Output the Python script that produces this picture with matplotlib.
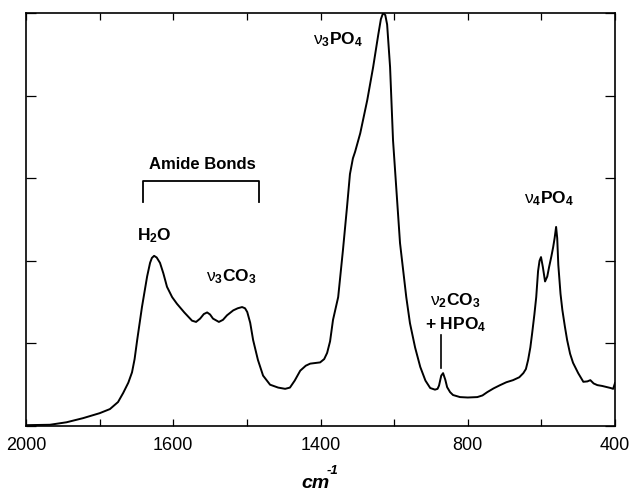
import matplotlib
matplotlib.use("Agg")
import matplotlib.pyplot as plt

plt.rcParams['font.family'] = ['Liberation Sans', 'DejaVu Sans']
plt.rcParams['mathtext.fontset'] = 'custom'
plt.rcParams['mathtext.rm'] = 'Liberation Sans'
plt.rcParams['mathtext.bf'] = 'Liberation Sans:bold'
plt.rcParams['mathtext.it'] = 'Liberation Sans:bold:italic'

# Spectrum (wavenumber cm^-1, relative absorbance)
wavenumber = [2000, 1935, 1890, 1845, 1800, 1772, 1750, 1736, 1722, 1712, 1705, 1698,
              1685, 1671, 1663, 1658, 1652, 1645, 1636, 1627, 1617, 1603, 1590, 1570,
              1549, 1538, 1527, 1517, 1508, 1500, 1492, 1476, 1465, 1454, 1437, 1425,
              1413, 1405, 1399, 1391, 1383, 1370, 1356, 1337, 1315, 1296, 1283, 1270,
              1255, 1240, 1228, 1201, 1190, 1182, 1174, 1166, 1152, 1139, 1128, 1120,
              1112, 1106, 1092, 1073, 1057, 1043, 1036, 1030, 1024, 1019, 1011, 1003,
              992, 984, 967, 957, 943, 929, 915, 902, 889, 882, 878, 872, 867, 861,
              856, 848, 840, 821, 800, 774, 760, 747, 730, 712, 695, 677, 660, 649,
              642, 636, 630, 625, 619, 614, 609, 605, 601, 596, 590, 584, 579, 573,
              568, 564, 560, 557, 554, 548, 543, 536, 530, 522, 514, 500, 486, 475,
              467, 458, 448, 435, 421, 412, 405, 400]
absorbance = [0.002, 0.003, 0.009, 0.019, 0.031, 0.041, 0.058, 0.080, 0.105, 0.130, 0.162, 0.208,
              0.288, 0.362, 0.395, 0.407, 0.412, 0.408, 0.395, 0.370, 0.337, 0.312, 0.296, 0.275,
              0.255, 0.252, 0.260, 0.271, 0.275, 0.270, 0.260, 0.252, 0.257, 0.268, 0.280, 0.285,
              0.288, 0.285, 0.276, 0.250, 0.208, 0.160, 0.122, 0.100, 0.093, 0.090, 0.093, 0.110,
              0.134, 0.146, 0.151, 0.154, 0.162, 0.177, 0.205, 0.257, 0.312, 0.426, 0.530, 0.610,
              0.648, 0.664, 0.709, 0.789, 0.869, 0.948, 0.985, 1.000, 0.995, 0.972, 0.869, 0.692,
              0.547, 0.443, 0.312, 0.249, 0.190, 0.143, 0.110, 0.092, 0.088, 0.090, 0.098, 0.122,
              0.128, 0.112, 0.094, 0.082, 0.075, 0.070, 0.069, 0.070, 0.074, 0.082, 0.091, 0.099,
              0.106, 0.111, 0.118, 0.128, 0.138, 0.160, 0.190, 0.225, 0.270, 0.312, 0.375, 0.400,
              0.409, 0.385, 0.350, 0.362, 0.385, 0.410, 0.433, 0.455, 0.482, 0.455, 0.390, 0.320,
              0.281, 0.240, 0.208, 0.175, 0.153, 0.128, 0.107, 0.108, 0.111, 0.103, 0.099, 0.097,
              0.094, 0.092, 0.090, 0.104]

x_ticks = [2000, 1800, 1600, 1400, 1200, 1000, 800, 600, 400]
x_tick_labels = ['2000', '', '1600', '', '1400', '', '800', '', '400']
y_ticks = [0.0, 0.2, 0.4, 0.6, 0.8, 1.0]

fig = plt.figure(figsize=(6.31, 4.92), dpi=100)
ax = fig.add_axes([26 / 631, 1 - 426 / 492, 589 / 631, 413 / 492])

ax.plot(wavenumber, absorbance, color='black', lw=1.4, solid_joinstyle='round')
ax.set_xlim(2000, 400)
ax.set_ylim(0, 1.0)

ax.set_xticks(x_ticks)
ax.set_xticklabels(x_tick_labels, fontsize=13)
ax.set_yticks(y_ticks)
ax.set_yticklabels([])
ax.tick_params(axis='both', direction='in', top=True, right=True, length=5, width=0.9, pad=8)
ax.tick_params(axis='y', length=7)
for s in ax.spines.values():
    s.set_linewidth(1.2)

# axis unit label: "cm" with a bold-italic superscript "-1"
fig.text(316 / 631, 1 - 484 / 492, 'cm', ha='center', va='center',
         fontsize=14, fontweight='bold', fontstyle='italic')
fig.text(333 / 631, 1 - 471 / 492, '-1', ha='center', va='center',
         fontsize=9.5, fontweight='bold', fontstyle='italic')

tkw = dict(ha='center', va='center', fontweight='bold', fontsize=12.5)
ax.text(1152, 0.935, r'$\mathrm{\nu}_{\mathbf{3}}$PO$_{\mathbf{4}}$', **tkw)
ax.text(1522, 0.632, 'Amide Bonds', ha='center', va='center', fontweight='bold', fontsize=12)
ax.text(1652, 0.462, r'H$_{\mathbf{2}}$O', **tkw)
ax.text(1443, 0.361, r'$\mathrm{\nu}_{\mathbf{3}}$CO$_{\mathbf{3}}$', **tkw)
ax.text(835, 0.303, r'$\mathrm{\nu}_{\mathbf{2}}$CO$_{\mathbf{3}}$', **tkw)
ax.text(832, 0.245, r'+ HPO$_{\mathbf{4}}$', **tkw)
ax.text(579, 0.550, r'$\mathrm{\nu}_{\mathbf{4}}$PO$_{\mathbf{4}}$', **tkw)

# Amide bracket
ax.plot([1682, 1682, 1367, 1367], [0.542, 0.593, 0.593, 0.542], color='black', lw=1.3)
# pointer to the 872 band
ax.plot([873, 873], [0.140, 0.220], color='black', lw=1.2)

fig.savefig('out.png', dpi=100)
